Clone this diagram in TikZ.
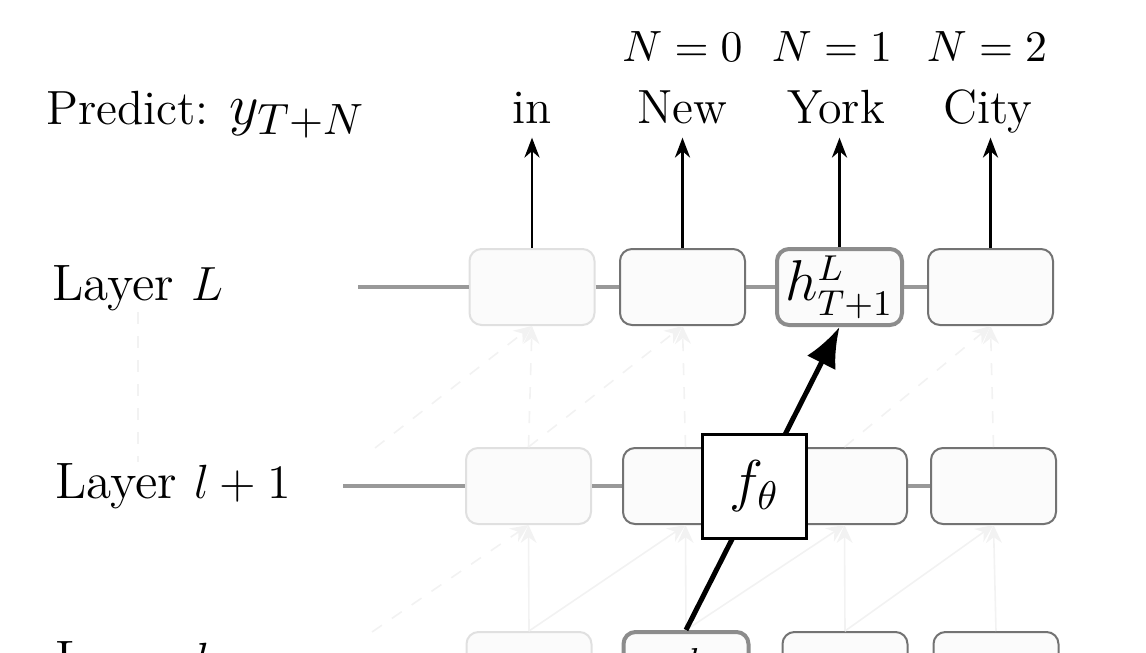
\documentclass[tikz,border=0pt]{standalone}
\usetikzlibrary{arrows.meta}
\tikzset{every picture/.style={line width=0.75pt}}
\tikzset{
  cell/.style={draw=black!55, fill=black!1.5, rounded corners=3pt, minimum width=31.25pt, minimum height=19pt, inner sep=0pt, line width=0.5pt, font=\fontsize{13.5}{16}\selectfont},
  faded/.style={cell, draw=black!12},
  active/.style={cell, draw=black!45, line width=1pt},
  label/.style={font=\fontsize{12.8}{15}\selectfont, inner sep=0pt},
  count/.style={font=\fontsize{10.6}{13}\selectfont, inner sep=0pt},
  word/.style={font=\large, text height=1.6ex, text depth=0.3ex, inner sep=2pt},
  rowline/.style={draw=black!40, line width=1pt},
  faint/.style={draw=black!5, line width=0.4pt, -{Stealth[length=4.5pt,width=4pt]}},
  up/.style={line width=0.6pt, -{Stealth[length=5pt,width=3.8pt]}},
}

\begin{document}
\begin{tikzpicture}[x=0.25pt,y=0.25pt,yscale=-1,xscale=1]
\clip (0,0) rectangle (1146,653);

% Text Node
\node[label, font=\large, anchor=base west] (predict) at (45,124) {Predict: {\fontsize{15}{17}\selectfont$y_{T+N}$}};
% Text Node
\node[label, anchor=west] (layerL) at (51,288) {Layer $L$};
% Text Node
\node[label, anchor=west] (layerlp) at (54,486) {Layer $l+1$};
% Text Node
\node[label, anchor=west] (layerl) at (54,664) {Layer $l$};

%Shape: Row L
\node[faded] (hL1) at (532,287) {};
\node[cell] (hL2) at (682.5,287) {};
\node[active] (hL3) at (839.5,287) {$h^{L}_{T+1}$};
\node[cell] (hL4) at (990.5,287) {};
%Shape: Row l+1
\node[faded] (hm1) at (528.5,486) {};
\node[cell] (hm2) at (685.5,486) {};
\node[cell] (hm3) at (844.5,486) {};
\node[cell] (hm4) at (993.5,486) {};
%Shape: Row l
\node[faded] (hl1) at (529,670) {};
\node[active] (hl2) at (686,670) {\raisebox{-6pt}[0pt][0pt]{$h^{l}_{T}$}};
\node[cell] (hl3) at (845,670) {};
\node[cell] (hl4) at (996,670) {};

\coordinate (startL) at (358,287);
\coordinate (startm) at (343,486);
\coordinate (startl) at (343,670);
\coordinate (vm0) at (375,448);
\coordinate (vl0) at (372,632);

% row lines
\draw[rowline] (startL) -- (hL1.west) (hL1.east) -- (hL2.west) (hL2.east) -- (hL3.west) (hL3.east) -- (hL4.west);
\draw[rowline] (startm) -- (hm1.west) (hm1.east) -- (hm2.west) (hm2.east) -- (hm3.west) (hm3.east) -- (hm4.west);
\draw[rowline] (startl) -- (hl1.west) (hl1.east) -- (hl2.west) (hl2.east) -- (hl3.west) (hl3.east) -- (hl4.west);

% faint links l+1 -> L
\draw[faint, dashed] (hm1.north) -- (hL1.south);
\draw[faint, dashed] (hm2.north) -- (hL2.south);
\draw[faint, dashed] (hm4.north) -- (hL4.south);
\draw[faint, dashed] (vm0) -- (hL1.south);
\draw[faint, dashed] (hm1.north) -- (hL2.south);
\draw[faint, dashed] (hm3.north) -- (hL4.south);
% faint links l -> l+1
\draw[faint] (hl1.north) -- (hm1.south);
\draw[faint] (hl2.north) -- (hm2.south);
\draw[faint] (hl3.north) -- (hm3.south);
\draw[faint] (hl4.north) -- (hm4.south);
\draw[faint, dashed] (vl0) -- (hm1.south);
\draw[faint] (hl1.north) -- (hm2.south);
\draw[faint] (hl2.north) -- (hm3.south);
\draw[faint] (hl3.north) -- (hm4.south);
\draw[faint, dashed, -] (layerL.south) -- (layerL.south |- layerlp.north);

% main path
\draw[line width=1.25pt, -{Latex[length=10pt,width=8pt]}] (hl2.north) -- (hL3.south);
\node[draw, fill=white, line width=0.75pt, minimum width=26pt, minimum height=26pt, inner sep=0pt, font=\Large] (ftheta) at (754.5,486) {$f_\theta$};

% Text Node
\node[word, anchor=base] (w1) at (532,123) {in};
\node[word, anchor=base] (w2) at (682.5,123) {New};
\node[word, anchor=base] (w3) at (836,123) {York};
\node[word, anchor=base] (w4) at (988,123) {City};
% Text Node
\node[count] (n0) at (682.5,47) {$N=0$};
\node[count] (n1) at (832,47) {$N=1$};
\node[count] (n2) at (987,47) {$N=2$};

\draw[up] (hL1.north) -- (w1.south);
\draw[up] (hL2.north) -- (w2.south);
\draw[up] (hL3.north) -- (w3.south -| hL3.north);
\draw[up] (hL4.north) -- (w4.south -| hL4.north);

\end{tikzpicture}
\end{document}
